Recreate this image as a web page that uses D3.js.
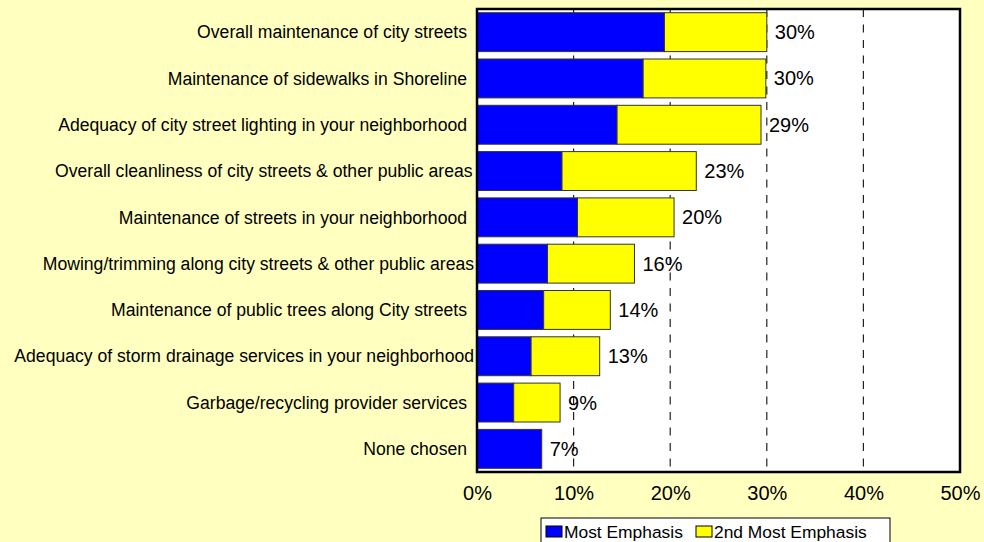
<!DOCTYPE html>
<html>
<head>
<meta charset="utf-8">
<script src="https://cdn.jsdelivr.net/npm/d3@7"></script>
<style>
  html, body { margin: 0; padding: 0; background: #FFFFC0; }
  svg { display: block; font-family: Arial, "Liberation Sans", sans-serif; }
</style>
</head>
<body>
<svg id="chart" width="984" height="542"></svg>
<script>
// Survey items, top to bottom
const categories = [
  "Overall maintenance of city streets",
  "Maintenance of sidewalks in Shoreline",
  "Adequacy of city street lighting in your neighborhood",
  "Overall cleanliness of city streets & other public areas",
  "Maintenance of streets in your neighborhood",
  "Mowing/trimming along city streets & other public areas",
  "Maintenance of public trees along City streets",
  "Adequacy of storm drainage services in your neighborhood",
  "Garbage/recycling provider services",
  "None chosen"
];
// Share of respondents (%) for each level of emphasis
const mostEmphasis =       [19.4, 17.2, 14.5,  8.8, 10.4, 7.3, 6.9, 5.6, 3.8, 6.7];
const secondMostEmphasis = [10.6, 12.7, 14.9, 13.9, 10.0, 9.0, 6.9, 7.1, 4.8, 0.0];
const seriesNames = ["Most Emphasis", "2nd Most Emphasis"];
const seriesColors = ["#0000FF", "#FFFF00"];
const xTicks = [0, 10, 20, 30, 40, 50];

const svg = d3.select("#chart");
const plot = { left: 477, right: 960, top: 9, bottom: 472 };

const x = d3.scaleLinear().domain([0, 50]).range([plot.left, plot.right]);
const y = d3.scaleBand().domain(categories)
  .range([plot.top, plot.bottom]).paddingInner(0.16).paddingOuter(0.08);

const rows = categories.map((c, i) => ({
  cat: c, a: mostEmphasis[i], b: secondMostEmphasis[i], total: mostEmphasis[i] + secondMostEmphasis[i]
}));

// Plot area
svg.append("rect")
  .attr("x", plot.left).attr("y", plot.top)
  .attr("width", plot.right - plot.left).attr("height", plot.bottom - plot.top)
  .attr("fill", "#FFFFFF");

// Dashed vertical gridlines
svg.append("g").selectAll("line")
  .data(xTicks.filter(t => t > 0 && t < 50))
  .join("line")
  .attr("x1", d => x(d)).attr("x2", d => x(d))
  .attr("y1", plot.top).attr("y2", plot.bottom)
  .attr("stroke", "#222").attr("stroke-width", 1.2)
  .attr("stroke-dasharray", "8,7.5");

// Stacked bars
const stack = d3.stack().keys(["a", "b"])(rows);
svg.append("g").selectAll("g")
  .data(stack)
  .join("g")
  .attr("fill", (d, i) => seriesColors[i])
  .selectAll("rect")
  .data(d => d.filter(s => s[1] - s[0] > 0))
  .join("rect")
  .attr("x", d => x(d[0]))
  .attr("y", d => y(d.data.cat))
  .attr("width", d => x(d[1]) - x(d[0]))
  .attr("height", y.bandwidth())
  .attr("stroke", "#333").attr("stroke-width", 1);

// Total labels
svg.append("g").selectAll("text")
  .data(rows)
  .join("text")
  .attr("x", d => x(d.total) + 8)
  .attr("y", d => y(d.cat) + y.bandwidth() / 2)
  .attr("dy", "0.35em")
  .attr("font-size", 20)
  .attr("fill", "#000")
  .text(d => Math.round(d.total) + "%");

// Category axis labels: right-aligned, long ones may run closer to the axis
svg.append("g").selectAll("text")
  .data(categories)
  .join("text")
  .attr("x", plot.left - 10)
  .attr("y", d => y(d) + y.bandwidth() / 2)
  .attr("dy", "0.35em")
  .attr("text-anchor", "end")
  .attr("font-size", 17.6)
  .attr("fill", "#000")
  .text(d => d)
  .each(function () {
    const w = this.getComputedTextLength();
    const overflow = Math.max(0, w - (plot.left - 10 - 55));
    if (overflow > 0) d3.select(this).attr("x", plot.left - 10 + Math.min(7, overflow));
  });

// Plot border
svg.append("rect")
  .attr("x", plot.left).attr("y", plot.top)
  .attr("width", plot.right - plot.left).attr("height", plot.bottom - plot.top)
  .attr("fill", "none").attr("stroke", "#000").attr("stroke-width", 2.5);

// X axis tick labels
const xAxis = d3.axisBottom(x).tickValues(xTicks).tickSize(0).tickPadding(14)
  .tickFormat(d => d + "%");
svg.append("g")
  .attr("transform", `translate(0,${plot.bottom})`)
  .call(xAxis)
  .call(g => g.select(".domain").remove())
  .call(g => g.selectAll("text").attr("font-size", 20).attr("fill", "#000")
    .attr("font-family", "Arial, 'Liberation Sans', sans-serif"));

// Legend
const legend = svg.append("g").attr("transform", "translate(541,518)");
legend.append("rect")
  .attr("width", 349).attr("height", 30)
  .attr("fill", "#FFFFFF").attr("stroke", "#000").attr("stroke-width", 1);
const legendX = [5, 155];
seriesNames.forEach((name, i) => {
  legend.append("rect")
    .attr("x", legendX[i]).attr("y", 8).attr("width", 16).attr("height", 11)
    .attr("fill", seriesColors[i]).attr("stroke", "#000").attr("stroke-width", 1);
  legend.append("text")
    .attr("x", legendX[i] + 18).attr("y", 14).attr("dy", "0.35em")
    .attr("font-size", 17.4).attr("fill", "#000")
    .text(name);
});
</script>
</body>
</html>
